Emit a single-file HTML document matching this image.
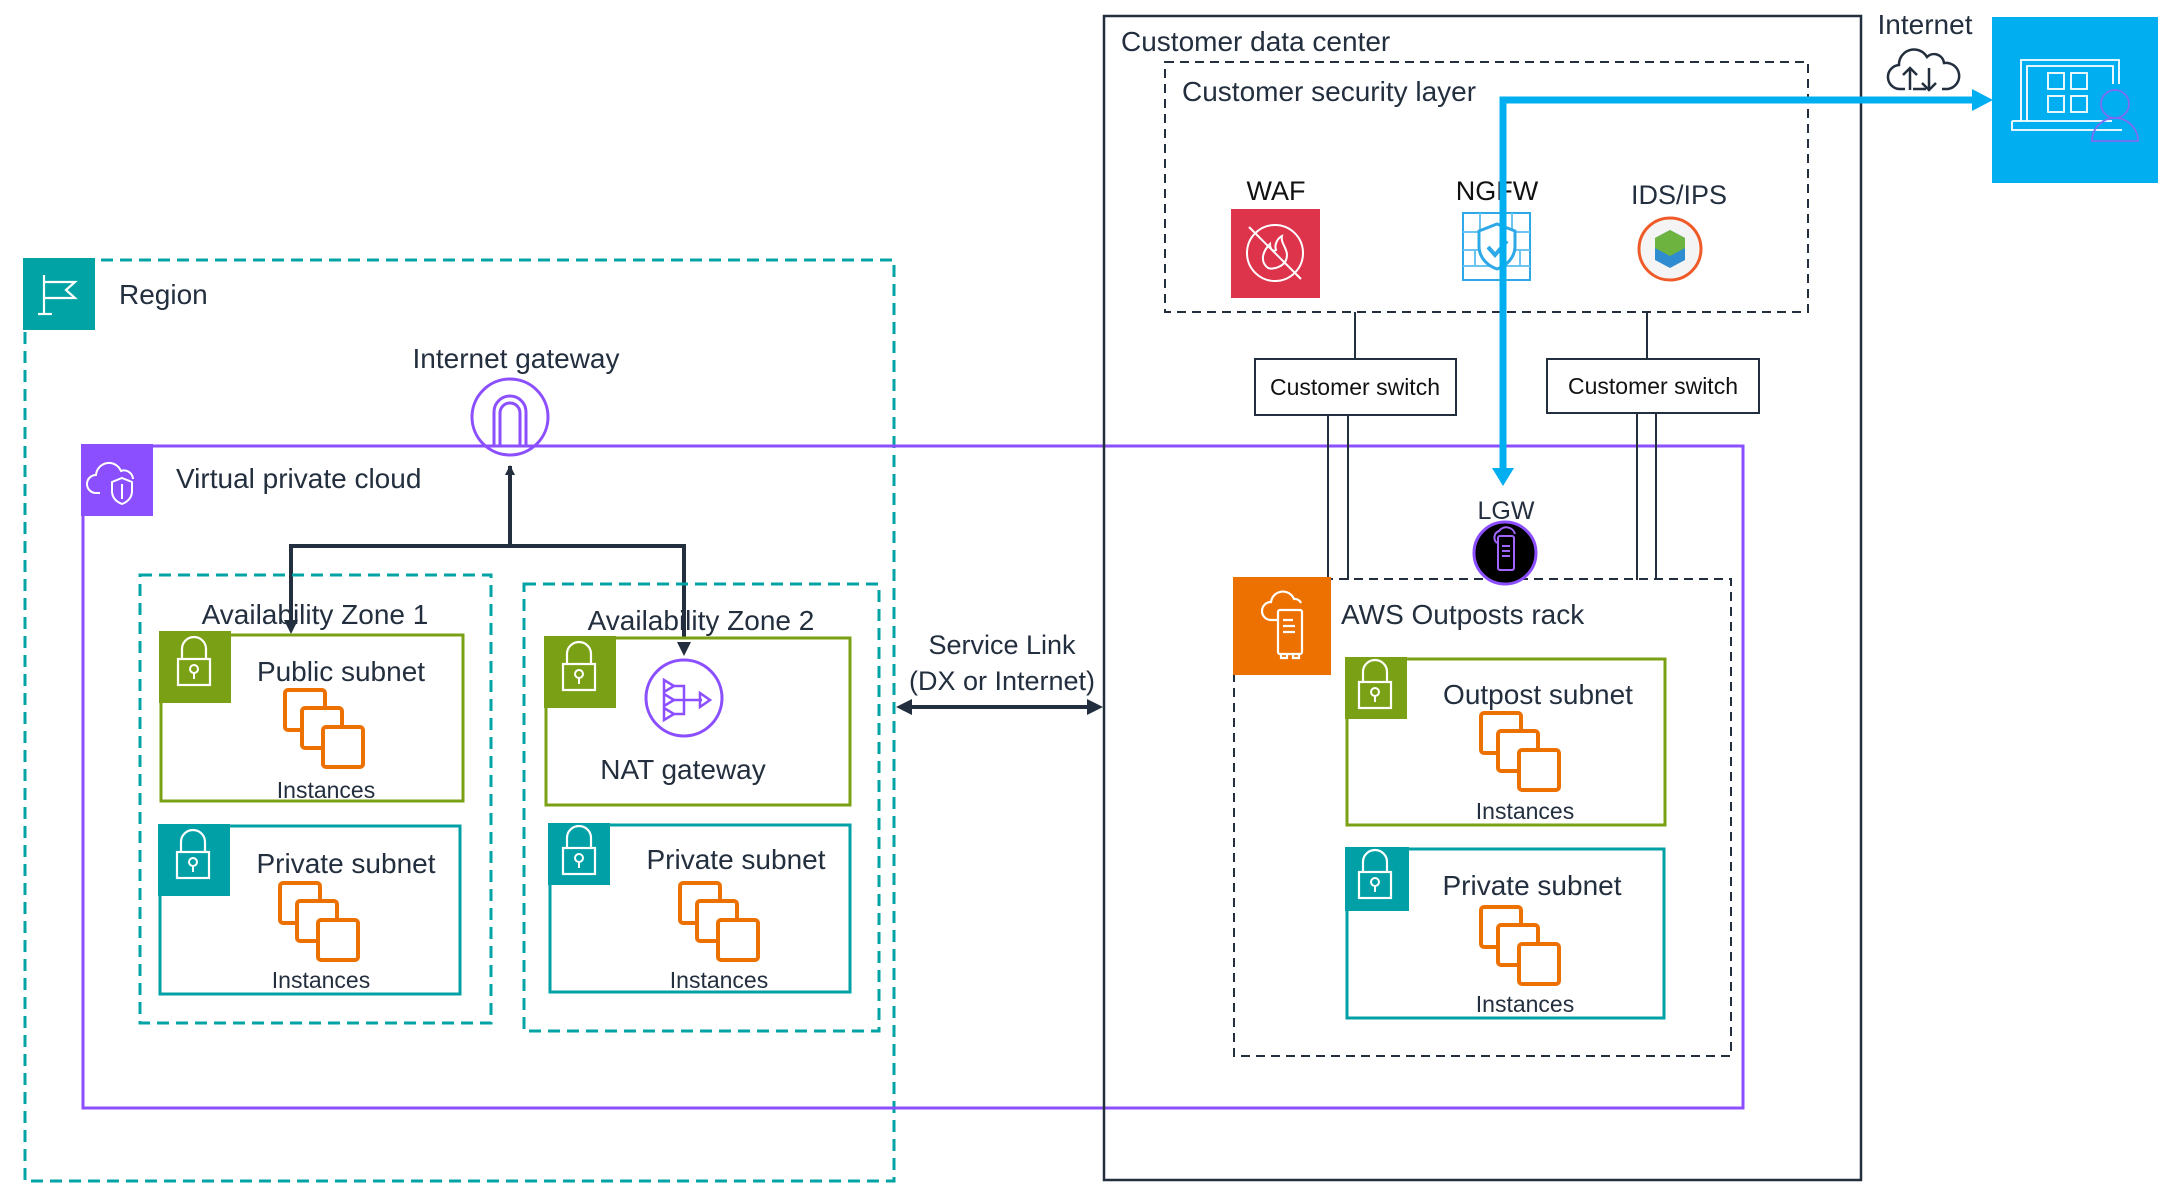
<!DOCTYPE html>
<html><head><meta charset="utf-8"><style>
html,body{margin:0;padding:0;background:#fff;}
svg{display:block;font-family:"Liberation Sans",Arial,sans-serif;}
</style></head><body>
<svg width="2174" height="1198" viewBox="0 0 2174 1198" xmlns="http://www.w3.org/2000/svg">
<defs>
  <g id="inst">
    <rect x="0" y="0" width="40" height="40" rx="3" fill="#fff" stroke="#ED7100" stroke-width="4"/>
    <rect x="17" y="18" width="40" height="40" rx="3" fill="#fff" stroke="#ED7100" stroke-width="4"/>
    <rect x="38" y="37" width="40" height="40" rx="3" fill="#fff" stroke="#ED7100" stroke-width="4"/>
  </g>
  <g id="lock">
    <path d="M23 28 v-10 a12 12 0 0 1 24 0 v10" fill="none" stroke="#fff" stroke-width="2.2"/>
    <rect x="19" y="28" width="32" height="26" fill="none" stroke="#fff" stroke-width="2.2"/>
    <circle cx="35" cy="38" r="4" fill="none" stroke="#fff" stroke-width="2"/>
    <line x1="35" y1="42" x2="35" y2="48" stroke="#fff" stroke-width="2"/>
  </g>
  <marker id="ah" markerWidth="10" markerHeight="10" refX="9" refY="5" orient="auto" markerUnits="userSpaceOnUse"><path d="M0,0 L10,5 L0,10 z" fill="#232F3E"/></marker>
</defs>

<!-- Region -->
<rect x="25" y="260" width="869" height="921" fill="none" stroke="#01A3A4" stroke-width="3" stroke-dasharray="12 7"/>
<rect x="23" y="258" width="72" height="72" fill="#01A3A4"/>
<g stroke="#fff" stroke-width="2.2" fill="none">
  <line x1="44" y1="275" x2="44" y2="314"/><line x1="38" y1="314" x2="52" y2="314"/>
  <path d="M44 282 H75 L66 290 L75 298 H44"/>
</g>
<text x="119" y="304" font-size="28" fill="#232F3E">Region</text>

<!-- Internet gateway -->
<text x="516" y="368" font-size="28" fill="#232F3E" text-anchor="middle">Internet gateway</text>
<circle cx="510" cy="417" r="38" fill="#fff" stroke="#8C4FFF" stroke-width="3"/>
<path d="M494 445 V412 a16 16 0 0 1 32 0 V445 M500 445 V413 a10 10 0 0 1 20 0 V445" fill="none" stroke="#8C4FFF" stroke-width="3"/>

<!-- VPC -->
<rect x="83" y="446" width="1660" height="662" fill="none" stroke="#8C4FFF" stroke-width="3"/>
<rect x="81" y="444" width="72" height="72" fill="#8C4FFF"/>
<path d="M100 493 h-4 a9 9 0 0 1 0-18 a13 13 0 0 1 25-4 a9 9 0 0 1 12 8" fill="none" stroke="#fff" stroke-width="2"/>
<path d="M122 478 l10 4 v9 c0 7-5 11-10 13 c-5-2-10-6-10-13 v-9 z M122 484 v15" fill="none" stroke="#fff" stroke-width="2"/>
<text x="176" y="488" font-size="28" fill="#232F3E">Virtual private cloud</text>

<!-- arrows to IGW -->
<g stroke="#232F3E" stroke-width="4" fill="none">
  <line x1="510" y1="546" x2="510" y2="466" marker-end="url(#ah)"/>
  <polyline points="291,630 291,546 684,546 684,652"/>
</g>
<path d="M284 620 L291 634 L298 620 z" fill="#232F3E"/>
<path d="M677 642 L684 656 L691 642 z" fill="#232F3E"/>

<!-- AZ1 -->
<rect x="140" y="575" width="351" height="448" fill="none" stroke="#01A3A4" stroke-width="3" stroke-dasharray="12 7"/>
<text x="315" y="624" font-size="28" fill="#232F3E" text-anchor="middle">Availability Zone 1</text>
<rect x="161" y="635" width="302" height="166" fill="#fff" stroke="#7AA116" stroke-width="3"/>
<rect x="159" y="631" width="72" height="72" fill="#7AA116"/><use href="#lock" x="159" y="631"/>
<text x="341" y="681" font-size="28" fill="#232F3E" text-anchor="middle">Public subnet</text>
<use href="#inst" x="285" y="690"/>
<text x="326" y="798" font-size="23" fill="#232F3E" text-anchor="middle">Instances</text>

<rect x="160" y="826" width="300" height="168" fill="#fff" stroke="#01A0A6" stroke-width="3"/>
<rect x="158" y="824" width="72" height="72" fill="#01A0A6"/><use href="#lock" x="158" y="824"/>
<text x="346" y="873" font-size="28" fill="#232F3E" text-anchor="middle">Private subnet</text>
<use href="#inst" x="280" y="883"/>
<text x="321" y="988" font-size="23" fill="#232F3E" text-anchor="middle">Instances</text>

<!-- AZ2 -->
<rect x="524" y="584" width="355" height="447" fill="none" stroke="#01A3A4" stroke-width="3" stroke-dasharray="12 7"/>
<text x="701" y="630" font-size="28" fill="#232F3E" text-anchor="middle">Availability Zone 2</text>
<rect x="546" y="638" width="304" height="167" fill="#fff" stroke="#7AA116" stroke-width="3"/>
<rect x="544" y="636" width="72" height="72" fill="#7AA116"/><use href="#lock" x="544" y="636"/>
<path d="M677 642 L684 656 L691 642 z" fill="#232F3E"/>
<circle cx="684" cy="698" r="38" fill="#fff" stroke="#8C4FFF" stroke-width="3"/>
<g fill="none" stroke="#8C4FFF" stroke-width="2.5">
  <path d="M664 680 l10 6 l-10 6 z M664 694 l10 6 l-10 6 z M664 708 l10 6 l-10 6 z"/>
  <path d="M674 686 h10 v28 h-10 M674 700 h28"/><path d="M700 693 l10 7 l-10 7 z"/>
</g>
<text x="683" y="779" font-size="28" fill="#232F3E" text-anchor="middle">NAT gateway</text>

<rect x="550" y="825" width="300" height="167" fill="#fff" stroke="#01A0A6" stroke-width="3"/>
<rect x="548" y="823" width="62" height="62" fill="#01A0A6"/><use href="#lock" x="544" y="820"/>
<text x="736" y="869" font-size="28" fill="#232F3E" text-anchor="middle">Private subnet</text>
<use href="#inst" x="680" y="883"/>
<text x="719" y="988" font-size="23" fill="#232F3E" text-anchor="middle">Instances</text>

<!-- Service link -->
<text x="1002" y="654" font-size="27" fill="#232F3E" text-anchor="middle">Service Link</text>
<text x="1002" y="690" font-size="27" fill="#232F3E" text-anchor="middle">(DX or Internet)</text>
<line x1="908" y1="707" x2="1093" y2="707" stroke="#232F3E" stroke-width="4"/>
<path d="M896 707 L912 699 L912 715 z M1103 707 L1087 699 L1087 715 z" fill="#232F3E"/>

<!-- Customer data center -->
<rect x="1104" y="16" width="757" height="1164" fill="none" stroke="#232F3E" stroke-width="2.5"/>
<text x="1121" y="51" font-size="28" fill="#232F3E">Customer data center</text>
<rect x="1165" y="62" width="643" height="250" fill="none" stroke="#232F3E" stroke-width="2" stroke-dasharray="9 6"/>
<text x="1182" y="101" font-size="28" fill="#232F3E">Customer security layer</text>

<text x="1276" y="200" font-size="27" fill="#111" text-anchor="middle">WAF</text>
<rect x="1231" y="209" width="89" height="89" fill="#DD344C"/>
<g stroke="#fff" stroke-width="2" fill="none">
  <circle cx="1275" cy="253" r="28"/><line x1="1249" y1="227" x2="1301" y2="279"/>
  <path d="M1268 268 c-8-6-6-16 2-24 c0 6 4 8 6 6 c-2-6 2-12 6-14 c-2 8 8 14 4 24 c-2 6-12 10-18 8 z"/>
</g>
<text x="1497" y="200" font-size="27" fill="#111" text-anchor="middle">NGFW</text>
<rect x="1463" y="213" width="67" height="67" fill="#fff" stroke="#2EA8E6" stroke-width="2"/>
<g stroke="#6CC4F0" stroke-width="2" fill="none">
  <path d="M1463 232 h67 M1463 250 h67 M1463 266 h67 M1480 213 v19 M1512 213 v19 M1475 250 v16 M1520 250 v16"/>
  <path d="M1497 224 l18 7 v15 c0 12-9 20-18 23 c-9-3-18-11-18-23 v-15 z" fill="#fff" stroke="#2EA8E6" stroke-width="3"/>
  <path d="M1488 247 l7 8 l12 -14" stroke="#2EA8E6" stroke-width="4"/>
</g>
<text x="1679" y="204" font-size="27" fill="#232F3E" text-anchor="middle">IDS/IPS</text>
<circle cx="1670" cy="249" r="31" fill="#f4f4f4" stroke="#F05A28" stroke-width="3"/>
<path d="M1655 238 l15-8 l15 8 v22 l-15 8 l-15-8 z" fill="#2F8CD0"/>
<path d="M1655 238 l15-8 l15 8 v10 l-15 8 l-15-8 z" fill="#6DB33F"/>

<!-- switches -->
<g stroke="#232F3E" stroke-width="2">
  <line x1="1355" y1="312" x2="1355" y2="358"/><line x1="1647" y1="312" x2="1647" y2="358"/>
  <line x1="1328" y1="415" x2="1328" y2="580"/><line x1="1348" y1="415" x2="1348" y2="580"/>
  <line x1="1637" y1="413" x2="1637" y2="580"/><line x1="1656" y1="413" x2="1656" y2="580"/>
</g>
<rect x="1255" y="359" width="201" height="56" fill="#fff" stroke="#232F3E" stroke-width="2"/>
<text x="1355" y="395" font-size="23" fill="#111" text-anchor="middle">Customer switch</text>
<rect x="1547" y="359" width="212" height="54" fill="#fff" stroke="#232F3E" stroke-width="2"/>
<text x="1653" y="394" font-size="23" fill="#111" text-anchor="middle">Customer switch</text>

<!-- Outposts rack -->
<rect x="1234" y="579" width="497" height="477" fill="none" stroke="#232F3E" stroke-width="2" stroke-dasharray="9 6"/>
<rect x="1233" y="577" width="98" height="98" fill="#ED7100"/>
<g stroke="#fff" stroke-width="2.2" fill="none">
  <path d="M1277 620 h-6 a9 9 0 0 1 0-18 a12 12 0 0 1 23-3 a7 7 0 0 1 7 4"/>
  <rect x="1278" y="610" width="24" height="44" rx="2"/><path d="M1283 620 h10 M1283 626 h12 M1283 632 h12 M1281 654 v4 h6 v-4 M1293 654 v4 h6 v-4"/>
</g>
<text x="1341" y="624" font-size="28" fill="#232F3E">AWS Outposts rack</text>

<rect x="1347" y="659" width="318" height="166" fill="#fff" stroke="#7AA116" stroke-width="3"/>
<rect x="1345" y="657" width="62" height="62" fill="#7AA116"/><use href="#lock" x="1340" y="654"/>
<text x="1538" y="704" font-size="28" fill="#232F3E" text-anchor="middle">Outpost subnet</text>
<use href="#inst" x="1481" y="713"/>
<text x="1525" y="819" font-size="23" fill="#232F3E" text-anchor="middle">Instances</text>

<rect x="1347" y="849" width="317" height="169" fill="#fff" stroke="#01A0A6" stroke-width="3"/>
<rect x="1345" y="847" width="64" height="64" fill="#01A0A6"/><use href="#lock" x="1340" y="844"/>
<text x="1532" y="895" font-size="28" fill="#232F3E" text-anchor="middle">Private subnet</text>
<use href="#inst" x="1481" y="907"/>
<text x="1525" y="1012" font-size="23" fill="#232F3E" text-anchor="middle">Instances</text>

<!-- LGW -->
<text x="1506" y="519" font-size="25" fill="#232F3E" text-anchor="middle">LGW</text>
<circle cx="1505" cy="553" r="31" fill="#000" stroke="#8C4FFF" stroke-width="3"/>
<g stroke="#A166FF" stroke-width="2" fill="none">
  <path d="M1497 543 a7 7 0 0 1 2-12 a9 9 0 0 1 16 3"/>
  <rect x="1498" y="536" width="16" height="34" rx="2"/><path d="M1502 546 h8 M1502 551 h8 M1502 556 h8"/>
</g>

<!-- blue path -->
<polyline points="1503,475 1503,100 1975,100" fill="none" stroke="#01AEEF" stroke-width="7"/>
<path d="M1492 468 L1503 486 L1514 468 z" fill="#01AEEF"/>
<path d="M1972 89 L1993 100 L1972 111 z" fill="#01AEEF"/>

<!-- Internet -->
<text x="1925" y="34" font-size="28" fill="#232F3E" text-anchor="middle">Internet</text>
<g stroke="#232F3E" stroke-width="2.5" fill="none">
  <path d="M1905 89 h-4 a12 12 0 0 1-2-24 a15 15 0 0 1 28-8 a10 10 0 0 1 17 6 a13 13 0 0 1 4 26 h-6"/>
  <path d="M1910 90 v-22 m-7 7 l7-7 l7 7 M1929 68 v22 m-7-7 l7 7 l7-7 M1913 89 h13"/>
</g>
<rect x="1992" y="17" width="166" height="166" fill="#01AEEF"/>
<g stroke="#fff" stroke-width="1.8" fill="none">
  <path d="M2021 121 V60 h98 v24 M2027 121 V66 h86 v18 M2012 121 v9 h110 M2012 121 h100"/>
  <rect x="2048" y="73" width="16" height="16"/><rect x="2071" y="73" width="16" height="16"/>
  <rect x="2048" y="96" width="16" height="16"/><rect x="2071" y="96" width="16" height="16"/>
</g>
<g stroke="#7D6BF2" stroke-width="1.8" fill="none">
  <circle cx="2115" cy="104" r="14"/><path d="M2092 141 a23 23 0 0 1 46 0 z"/>
</g>
</svg>
</body></html>
